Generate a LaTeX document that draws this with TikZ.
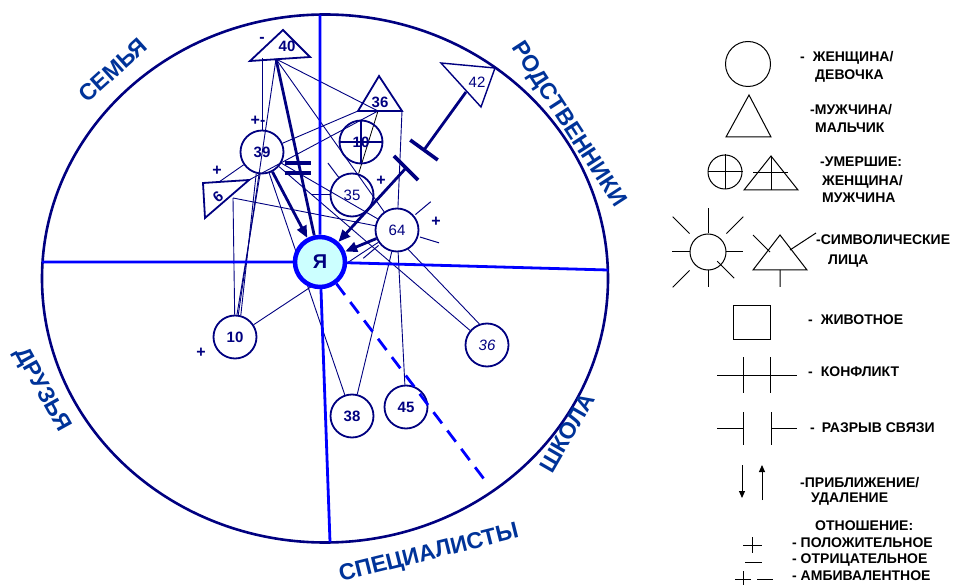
\documentclass[tikz,border=0pt]{standalone}
\usepackage{fontspec}
\setmainfont{Liberation Sans}
\usetikzlibrary{arrows.meta,calc,backgrounds}

\definecolor{navy}{RGB}{0,0,128}
\definecolor{axisblue}{RGB}{0,0,255}
\definecolor{areablue}{RGB}{0,51,153}
\definecolor{mefill}{RGB}{204,255,255}

\tikzset{
  person/.style={draw=navy, line width=1.8pt},
  woman/.style={circle, person, minimum size=43pt, inner sep=0pt, text=navy, font=\bfseries\fontsize{15}{15}\selectfont},
  faint/.style={font=\fontsize{15}{15}\selectfont},
  num/.style={text=navy, inner sep=0pt, font=\bfseries\fontsize{15}{15}\selectfont},
  me/.style={circle, draw=axisblue, line width=4.5pt, fill=mefill, minimum size=50pt, inner sep=0pt, text=navy, font=\bfseries\fontsize{20}{20}\selectfont},
  axis/.style={axisblue, line width=2.8pt},
  tie/.style={navy, line width=0.9pt},
  strong/.style={navy, line width=2.8pt},
  towards/.style={strong, -{Triangle[length=12pt,width=10pt]}},
  bar/.style={navy, line width=3.6pt},
  sign/.style={text=navy, inner sep=0pt, font=\bfseries\fontsize{16}{16}\selectfont},
  area/.style={text=areablue, inner sep=0pt, font=\bfseries\fontsize{23}{23}\selectfont},
  key/.style={anchor=base west, inner sep=0pt, font=\bfseries\fontsize{14}{16}\selectfont},
  keyline/.style={black, line width=1pt},
}

\begin{document}
\begin{tikzpicture}[x=1pt,y=-1pt]
\useasboundingbox (0,0) rectangle (964,585);

% круг сфер
\draw[navy, line width=2.6pt] (325,278.5) ellipse [x radius=283pt, y radius=264pt];

\node[area, rotate=42] (a1) at (113,70) {СЕМЬЯ};
\node[area, rotate=-57] (a2) at (568,125) {РОДСТВЕННИКИ};
\node[area, rotate=-61] (a3) at (42,390) {ДРУЗЬЯ};
\node[area, rotate=60] (a4) at (567,433) {ШКОЛА};
\node[area, rotate=14] (a5) at (429,554) {СПЕЦИАЛИСТЫ};

% я
\node[me] (me) at (320,262) {Я};

% люди
\node[woman] (n39) at (262,152) {39};
\node[woman] (n10d) at (361,142) {10};
\node[woman, faint] (n35) at (352,195) {35};
\node[woman, faint] (n64) at (397,230) {64};
\node[woman] (n10) at (235,337) {10};
\node[woman] (n38) at (352,416) {38};
\node[woman] (n45) at (406,407) {45};
\node[woman, font=\itshape\fontsize{15}{15}\selectfont] (n36c) at (487,345) {36};
\draw[person, line width=1.4pt] (n10d.north) -- (n10d.south) (n10d.west) -- (n10d.east);

\draw[person] (283,30) -- (250,61) -- (310,57) -- cycle;
\node[num] (n40) at (287,46) {40};
\draw[person] (379,76) -- (358,111) -- (402,111) -- cycle;
\node[num] (n36) at (380,102) {36};
\draw[person, line width=1.4pt] (441,63) -- (495,68) -- (481,107) -- cycle;
\node[num, faint] (n42) at (477,82) {42};
\draw[person] (203,183) -- (249,180) -- (205,218) -- cycle;
\node[num, rotate=40] (n6) at (218,197) {6};

% символические лица
\foreach \a in {40,-17,220}
  \draw[tie, line width=1pt] ($(n64.center)+(\a:24pt)$) -- ($(n64.center)+(\a:44pt)$);
\foreach \a in {180,127}
  \draw[tie, line width=1pt] ($(n35.center)+(\a:22pt)$) -- ($(n35.center)+(\a:40pt)$);

\coordinate (h40) at (276,59);
\coordinate (h40l) at (262,58);
\coordinate (h36) at (378,111);
\coordinate (h36l) at (358,111);
\coordinate (h36r) at (402,111);
\coordinate (h42) at (466,92);
\coordinate (h6) at (233,198);
\coordinate (h6r) at (249,180);
\coordinate (h6t) at (219,182);
\coordinate (gap1) at (424,150);
\coordinate (gap2) at (406,168);

% оси
\coordinate (top) at (320,15);
\coordinate (bot) at (330,542);
\coordinate (lft) at (42,262);
\coordinate (rgt) at (608,270);
\coordinate (dend) at (487,483);
\draw[axis] (top) -- (me) -- (bot);
\draw[axis] (lft) -- (me) -- (rgt);
\draw[axis, dash pattern=on 14pt off 9pt] (me) -- (dend);

% связи
\begin{scope}[on background layer]
\draw[tie] (h40) -- (h36);
\draw[tie] (h40) -- (n64);
\draw[tie] (h40l) -- (n39);
\draw[tie] (h40) -- (n10);
\draw[tie] (h36l) -- (n39);
\draw[tie] (h36) -- (h6r);
\draw[tie] (h36r) -- (n64);
\draw[black, line width=0.8pt] (h36) -- (n35);
\draw[tie] (n39) -- (h6t);
\draw[tie] (n39) -- (n64);
\draw[tie] (n39) -- (n38);
\draw[tie] (n39) -- (n36c);
\draw[tie] (n39.255) -- (n10.75);
\draw[tie] (n39.265) -- (n10.85);
\draw[tie] (h6) -- (n64);
\draw[tie] (h6) -- (n10);
\draw[tie] (n10) -- (n64);
\draw[tie] (n64) -- (n38);
\draw[tie] (n64) -- (n45);
\draw[tie] (n64.-60) -- (n36c.110);
\end{scope}

\draw[strong] (h40) -- (me);
\draw[bar] (285,163) -- (311,163) (285,173) -- (311,173);
\draw[towards] (n39) -- (me);
\draw[towards] (n64) -- (me);
\draw[strong] (h42) -- (gap1);
\draw[bar] ($(gap1)!17pt!90:(h42)$) -- ($(gap1)!17pt!-90:(h42)$);
\draw[bar] ($(gap2)!17pt!90:(gap1)$) -- ($(gap2)!17pt!-90:(gap1)$);
\draw[towards] (gap2) -- (me);

% знаки
\node[sign] (s40) at (262,40) {-};
\node[sign] (s39) at (258,121) {+-};
\node[sign] (s6) at (217,171) {+};
\node[sign] (s35) at (381,181) {+};
\node[sign] (s64) at (436,222) {+};
\node[sign] (s10) at (201,353) {+};

% легенда
\node[circle, draw, line width=1pt, minimum size=45pt, inner sep=0pt] (kwoman) at (748,64) {};
\node[key] (k1a) at (800,62) {-\hspace{8pt}ЖЕНЩИНА/};
\node[key] (k1b) at (815,80) {ДЕВОЧКА};

\draw[keyline] (749,95) -- (726,137) -- (771,137) -- cycle;
\node[key] (k2a) at (810,115) {-МУЖЧИНА/};
\node[key] (k2b) at (815,133) {МАЛЬЧИК};

\node[circle, draw, line width=1pt, minimum size=34pt, inner sep=0pt] (kdead) at (725,172) {};
\draw[keyline] (kdead.north) -- (kdead.south) (kdead.west) -- (kdead.east);
\draw[keyline] (771,156) -- (744,190) -- (798,190) -- cycle;
\draw[keyline] (771,156) -- (771,190) (753,173) -- (788,173);
\node[key] (k3a) at (820,167) {-УМЕРШИЕ:};
\node[key] (k3b) at (822,186) {ЖЕНЩИНА/};
\node[key] (k3c) at (822,203) {МУЖЧИНА};

\node[circle, draw, line width=1pt, minimum size=36pt, inner sep=0pt] (ksun) at (708,252) {};
\foreach \a/\r/\s in {90/19/44, 270/18/35, 180/18/36, 0/18/35, 135/26/50, 45/26/50, 225/26/50, -45/13/37}
  \draw[keyline] ($(ksun.center)+(\a:\r pt)$) -- ($(ksun.center)+(\a:\s pt)$);
\draw[keyline] (780,235) -- (753,270) -- (807,270) -- cycle;
\draw[keyline] (780,270) -- (780,287) (753,235) -- (770,252) (790,250) -- (816,233);
\node[key] (k4a) at (816,245) {-СИМВОЛИЧЕСКИЕ};
\node[key] (k4b) at (828,265) {ЛИЦА};

\node[draw, line width=1pt, minimum width=37pt, minimum height=34pt, inner sep=0pt] (kpet) at (752,323) {};
\node[key] (k5) at (808,325) {-\hspace{8pt}ЖИВОТНОЕ};

\draw[keyline] (717,375) -- (797,375) (743,357) -- (743,393) (770,357) -- (770,393);
\node[key] (k6) at (808,377) {-\hspace{8pt}КОНФЛИКТ};

\draw[keyline] (717,428) -- (743,428) (743,412) -- (743,445) (771,412) -- (771,445) (771,428) -- (797,428);
\node[key] (k7) at (810,432) {-\hspace{7pt}РАЗРЫВ СВЯЗИ};

\draw[keyline, -{Triangle[length=7pt,width=6pt]}] (742,465) -- (742,498);
\draw[keyline, -{Triangle[length=7pt,width=6pt]}] (762,500) -- (762,465);
\node[key] (k8a) at (800,487) {-ПРИБЛИЖЕНИЕ/};
\node[key] (k8b) at (811,502) {УДАЛЕНИЕ};

\node[key] (k9) at (815,530) {ОТНОШЕНИЕ:};
\draw[keyline] (743,545) -- (762,545) (752.5,537) -- (752.5,553);
\node[key] (k10) at (792,547) {- ПОЛОЖИТЕЛЬНОЕ};
\draw[keyline] (745,562) -- (762,562);
\node[key] (k11) at (792,563) {- ОТРИЦАТЕЛЬНОЕ};
\draw[keyline] (735,579) -- (751,579) (743,571) -- (743,586) (757,579) -- (773,579);
\node[key] (k12) at (792,580) {- АМБИВАЛЕНТНОЕ};
\end{tikzpicture}
\end{document}
